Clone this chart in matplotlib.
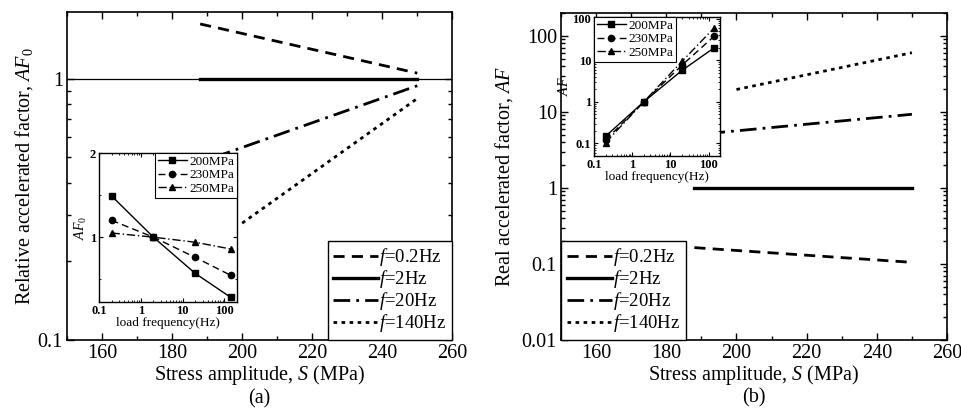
import numpy as np
import matplotlib
matplotlib.use("Agg")
import matplotlib.pyplot as plt
from matplotlib.ticker import MultipleLocator, LogLocator, FixedLocator, NullFormatter

plt.rcParams["font.family"] = ["Liberation Serif", "DejaVu Serif"]
plt.rcParams["mathtext.fontset"] = "custom"
plt.rcParams["mathtext.rm"] = "Liberation Serif"
plt.rcParams["mathtext.it"] = "Liberation Serif:italic"

# main panels: stress amplitude (MPa) vs accelerated factor for each load frequency
labels = [r"$f$=0.2Hz", r"$f$=2Hz", r"$f$=20Hz", r"$f$=140Hz"]
S_02 = [188, 250]
S_2 = [188, 250]
S_20 = [192, 250]
S_140 = [200, 250]
af0_02 = [1.62, 1.05]
af0_2 = [1.0, 1.0]
af0_20 = [0.50, 0.94]
af0_140 = [0.28, 0.84]
af_02 = [0.164, 0.105]
af_2 = [1.0, 1.0]
af_20 = [5.2, 9.3]
af_140 = [19.7, 60.0]

# insets: load frequency (Hz) vs factor for three stress levels
freq = [0.2, 2, 20, 140]
stress_labels = ["200MPa", "230MPa", "250MPa"]
af0_200 = [1.49, 1.0, 0.57, 0.286]
af0_230 = [1.20, 1.0, 0.76, 0.548]
af0_250 = [1.05, 1.0, 0.94, 0.86]
af_200 = [0.149, 1.0, 5.7, 20.0]
af_230 = [0.12, 1.0, 7.6, 38.0]
af_250 = [0.105, 1.0, 9.4, 60.0]

FS = 14.5
styles = [
    dict(ls=(0, (4, 2.6)), lw=2.0),
    dict(ls="-", lw=2.4),
    dict(ls=(0, (6, 2.2, 1, 2.2)), lw=2.0),
    dict(ls=(0, (1.3, 1.6)), lw=2.0),
]
ins_styles = [("-", "s"), ((0, (5, 3)), "o"), ((0, (6, 2, 1, 2)), "^")]

fig = plt.figure(figsize=(9.62, 4.08), dpi=100)
ax1 = fig.add_axes([0.0697, 0.1667, 0.4005, 0.8039])
ax2 = fig.add_axes([0.5832, 0.1667, 0.4012, 0.8015])


def style_main(ax):
    ax.set_xlim(150, 260)
    ax.xaxis.set_major_locator(MultipleLocator(20))
    ax.xaxis.set_minor_locator(MultipleLocator(10))
    ax.tick_params(which="both", direction="in", top=True, right=True, labelsize=FS, pad=3)
    ax.tick_params(which="major", length=5, width=1)
    ax.tick_params(which="minor", length=3, width=1)
    for sp in ax.spines.values():
        sp.set_linewidth(1.2)
    ax.set_xlabel("Stress amplitude, $S$ (MPa)", fontsize=FS, labelpad=0)


def main_legend(ax, loc):
    leg = ax.legend(loc=loc, fontsize=13.5, handlelength=2.4, handletextpad=0.05,
                    fancybox=False, edgecolor="black", borderaxespad=0, labelspacing=0.0,
                    borderpad=0.3, framealpha=1)
    leg.get_frame().set_linewidth(1.0)


# (a)
ax1.axhline(1, color="black", lw=0.9)
for S, y, st, lab in zip([S_02, S_2, S_20, S_140], [af0_02, af0_2, af0_20, af0_140], styles, labels):
    ax1.plot(S, y, color="black", label=lab, **st)
ax1.set_yscale("log")
ax1.set_ylim(0.1, 1.8)
ax1.yaxis.set_major_locator(FixedLocator([0.1, 1]))
ax1.yaxis.set_minor_locator(LogLocator(base=10, subs=np.arange(2, 10)))
ax1.yaxis.set_minor_formatter(NullFormatter())
ax1.set_yticklabels(["0.1", "1"])
style_main(ax1)
ax1.set_ylabel(r"Relative accelerated factor, $AF_{\mathrm{0}}$", fontsize=FS, labelpad=2)
ax1.text(0.5, -0.178, "(a)", transform=ax1.transAxes, ha="center", va="center", fontsize=FS)
main_legend(ax1, "lower right")

# (b)
for S, y, st, lab in zip([S_02, S_2, S_20, S_140], [af_02, af_2, af_20, af_140], styles, labels):
    ax2.plot(S, y, color="black", label=lab, **st)
ax2.set_yscale("log")
ax2.set_ylim(0.01, 200)
ax2.yaxis.set_major_locator(FixedLocator([0.01, 0.1, 1, 10, 100]))
ax2.yaxis.set_minor_locator(LogLocator(base=10, subs=np.arange(2, 10)))
ax2.yaxis.set_minor_formatter(NullFormatter())
ax2.set_yticklabels(["0.01", "0.1", "1", "10", "100"])
style_main(ax2)
ax2.set_ylabel(r"Real accelerated factor, $AF$", fontsize=FS, labelpad=5)
ax2.text(0.5, -0.178, "(b)", transform=ax2.transAxes, ha="center", va="center", fontsize=FS)
main_legend(ax2, "lower left")


def style_inset(ax, loc):
    ax.set_xscale("log")
    ax.set_xlim(0.1, 200)
    ax.xaxis.set_major_locator(FixedLocator([0.1, 1, 10, 100]))
    ax.xaxis.set_minor_locator(LogLocator(base=10, subs=np.arange(2, 10)))
    ax.xaxis.set_minor_formatter(NullFormatter())
    ax.set_xticklabels(["0.1", "1", "10", "100"])
    ax.tick_params(which="both", direction="in", top=True, right=True, labelsize=9, pad=2)
    ax.tick_params(which="major", length=3, width=0.8)
    ax.tick_params(which="minor", length=1.5, width=0.6)
    for t in ax.get_xticklabels() + ax.get_yticklabels():
        t.set_fontweight("bold")
    for sp in ax.spines.values():
        sp.set_linewidth(1.0)
    ax.set_xlabel("load frequency(Hz)", fontsize=9.5, labelpad=0)
    leg = ax.legend(loc=loc, fontsize=9.5, handlelength=2.2, handletextpad=0.2,
                    fancybox=False, edgecolor="black", borderaxespad=0,
                    labelspacing=0.1, borderpad=0.2, framealpha=1)
    leg.get_frame().set_linewidth(0.8)


ins1 = fig.add_axes([0.1029, 0.2598, 0.1435, 0.3652])
ins2 = fig.add_axes([0.6175, 0.6176, 0.1310, 0.3407])

for y, (ls, mk), lab in zip([af0_200, af0_230, af0_250], ins_styles, stress_labels):
    ins1.plot(freq, y, color="black", ls=ls, lw=1.0, marker=mk, ms=4.5, label=lab)
ins1.set_ylim(0.23, 2)
ins1.yaxis.set_major_locator(FixedLocator([1, 2]))
ins1.yaxis.set_minor_locator(FixedLocator([0.5, 1.5]))
ins1.set_yticklabels(["1", "2"])
ins1.set_ylabel(r"$AF_{\mathrm{0}}$", fontsize=10, labelpad=1)
style_inset(ins1, "upper right")

for y, (ls, mk), lab in zip([af_200, af_230, af_250], ins_styles, stress_labels):
    ins2.plot(freq, y, color="black", ls=ls, lw=1.0, marker=mk, ms=4.5, label=lab)
ins2.set_yscale("log")
ins2.set_ylim(0.05, 110)
ins2.yaxis.set_major_locator(FixedLocator([0.1, 1, 10, 100]))
ins2.yaxis.set_minor_locator(LogLocator(base=10, subs=np.arange(2, 10)))
ins2.yaxis.set_minor_formatter(NullFormatter())
ins2.set_yticklabels(["0.1", "1", "10", "100"])
ins2.set_ylabel(r"$AF$", fontsize=10, labelpad=1)
style_inset(ins2, "upper left")

fig.savefig("out.png", dpi=100)
